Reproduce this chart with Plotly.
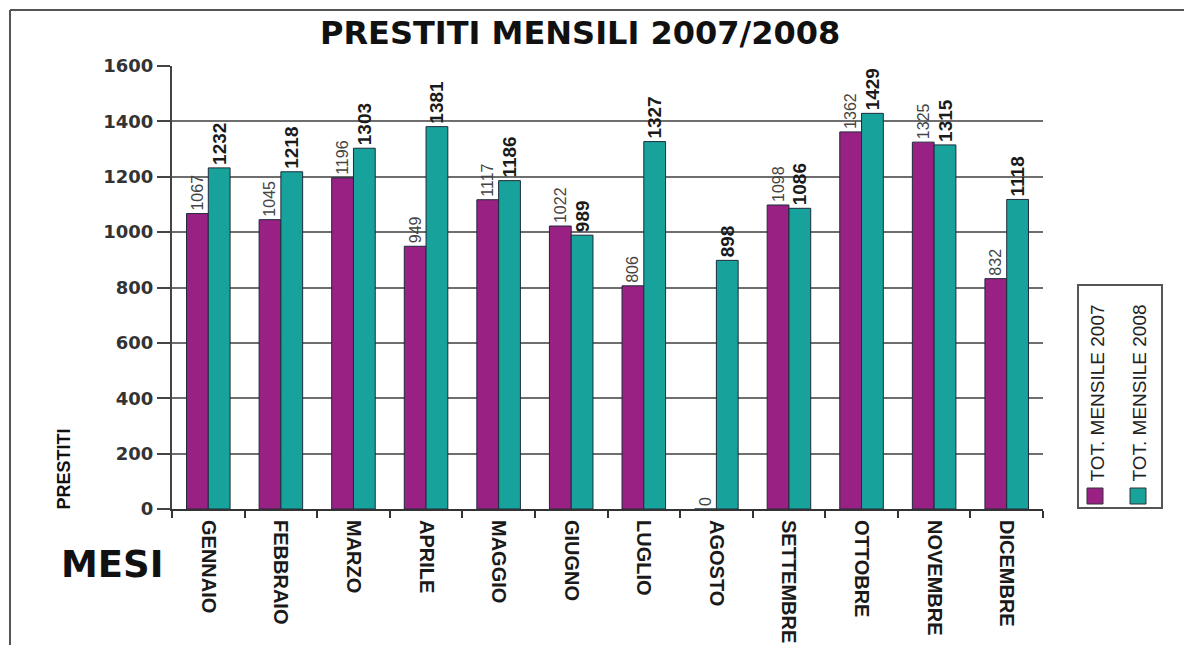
import plotly.graph_objects as go

mesi = ["GENNAIO", "FEBBRAIO", "MARZO", "APRILE", "MAGGIO", "GIUGNO",
        "LUGLIO", "AGOSTO", "SETTEMBRE", "OTTOBRE", "NOVEMBRE", "DICEMBRE"]
tot_2007 = [1067, 1045, 1196, 949, 1117, 1022, 806, 0, 1098, 1362, 1325, 832]
tot_2008 = [1232, 1218, 1303, 1381, 1186, 989, 1327, 898, 1086, 1429, 1315, 1118]
y_ticks = [0, 200, 400, 600, 800, 1000, 1200, 1400, 1600]

C07 = "#9a2184"
C08 = "#17a39b"
EDGE = "#1e2a3a"
NARROW = "Liberation Sans Narrow, Arial Narrow, Liberation Sans, sans-serif"
WIDE = "DejaVu Sans, Verdana, sans-serif"

# page offset of the figure (default body margin)
OFF = 8
# desired plot area in page pixels
PL, PR, PT, PB = 172, 1043, 66, 509
W, H = 1192 - OFF, 645 - OFF
L, T = PL - OFF, PT - OFF
R, B = W - (PR - OFF), H - (PB - OFF)
PW, PH = PR - PL, PB - PT


def px(x):
    return (x - PL) / PW


def py(y):
    return (PB - y) / PH


fig = go.Figure()
fig.add_trace(go.Bar(
    x=mesi, y=tot_2007, name="TOT. MENSILE 2007",
    marker=dict(color=C07, line=dict(color=EDGE, width=1)),
    text=[str(v) for v in tot_2007], textposition="outside", textangle=-90,
    constraintext="none", cliponaxis=False,
    textfont=dict(family=NARROW, size=16, color="#444444"),
))
fig.add_trace(go.Bar(
    x=mesi, y=tot_2008, name="TOT. MENSILE 2008",
    marker=dict(color=C08, line=dict(color=EDGE, width=1)),
    text=[str(v) for v in tot_2008], textposition="outside", textangle=-90,
    constraintext="none", cliponaxis=False,
    textfont=dict(family=NARROW, size=19, color="#1a1a1a", weight="bold"),
))

shapes = [
    # outer frame (top and left visible)
    dict(type="line", xref="paper", yref="paper", x0=px(10), x1=px(1200),
         y0=py(10), y1=py(10), line=dict(color="#555555", width=2)),
    dict(type="line", xref="paper", yref="paper", x0=px(10), x1=px(10),
         y0=py(10), y1=py(660), line=dict(color="#555555", width=2)),
    # legend box
    dict(type="rect", xref="paper", yref="paper", x0=px(1078), x1=px(1162),
         y0=py(508), y1=py(285), line=dict(color="#555555", width=2),
         fillcolor="rgba(0,0,0,0)"),
    dict(type="rect", xref="paper", yref="paper", x0=px(1087), x1=px(1103),
         y0=py(504), y1=py(488), line=dict(color="#333333", width=1),
         fillcolor=C07),
    dict(type="rect", xref="paper", yref="paper", x0=px(1130), x1=px(1146),
         y0=py(504), y1=py(488), line=dict(color="#333333", width=1),
         fillcolor=C08),
]

annotations = [
    dict(text="<b>PRESTITI MENSILI 2007/2008</b>", xref="paper", yref="paper",
         x=px(580), y=py(33), showarrow=False, xanchor="center", yanchor="middle",
         font=dict(family=WIDE, size=32, color="#111111")),
    dict(text="<b>MESI</b>", xref="paper", yref="paper",
         x=px(112), y=py(564), showarrow=False, xanchor="center", yanchor="middle",
         font=dict(family=WIDE, size=37, color="#111111")),
    dict(text="<b>PRESTITI</b>", xref="paper", yref="paper", textangle=-90,
         x=px(64), y=py(512), showarrow=False, xanchor="center", yanchor="bottom",
         font=dict(family=NARROW, size=18, color="#111111")),
    dict(text="TOT. MENSILE 2007", xref="paper", yref="paper", textangle=-90,
         x=px(1097), y=py(484), showarrow=False, xanchor="center", yanchor="bottom",
         font=dict(family=NARROW, size=19, color="#222222")),
    dict(text="TOT. MENSILE 2008", xref="paper", yref="paper", textangle=-90,
         x=px(1139), y=py(484), showarrow=False, xanchor="center", yanchor="bottom",
         font=dict(family=NARROW, size=19, color="#222222")),
]

fig.update_layout(
    width=W, height=H, autosize=False,
    margin=dict(l=L, r=R, t=T, b=B, pad=0, autoexpand=False),
    paper_bgcolor="white", plot_bgcolor="white",
    barmode="group", bargap=0.4, bargroupgap=0.0,
    showlegend=False,
    shapes=shapes, annotations=annotations,
    xaxis=dict(
        type="category", tickangle=90, ticks="outside", tickson="boundaries",
        ticklen=7, tickcolor="#333333", tickwidth=2, automargin=False,
        ticklabelstandoff=5,
        showline=True, linecolor="#333333", linewidth=2,
        showgrid=False,
        tickfont=dict(family=NARROW, size=20, color="#1a1a1a", weight="bold"),
    ),
    yaxis=dict(
        range=[0, 1600], tickvals=y_ticks, ticktext=[str(v) for v in y_ticks],
        ticks="outside", ticklen=13, tickcolor="#444444", tickwidth=2,
        showline=True, linecolor="#444444", linewidth=2, automargin=False,
        showgrid=True, gridcolor="#6e6e6e", gridwidth=2,
        zeroline=False,
        tickfont=dict(family=WIDE, size=18, color="#333333", weight="bold"),
    ),
)

fig.write_html("out.html")
